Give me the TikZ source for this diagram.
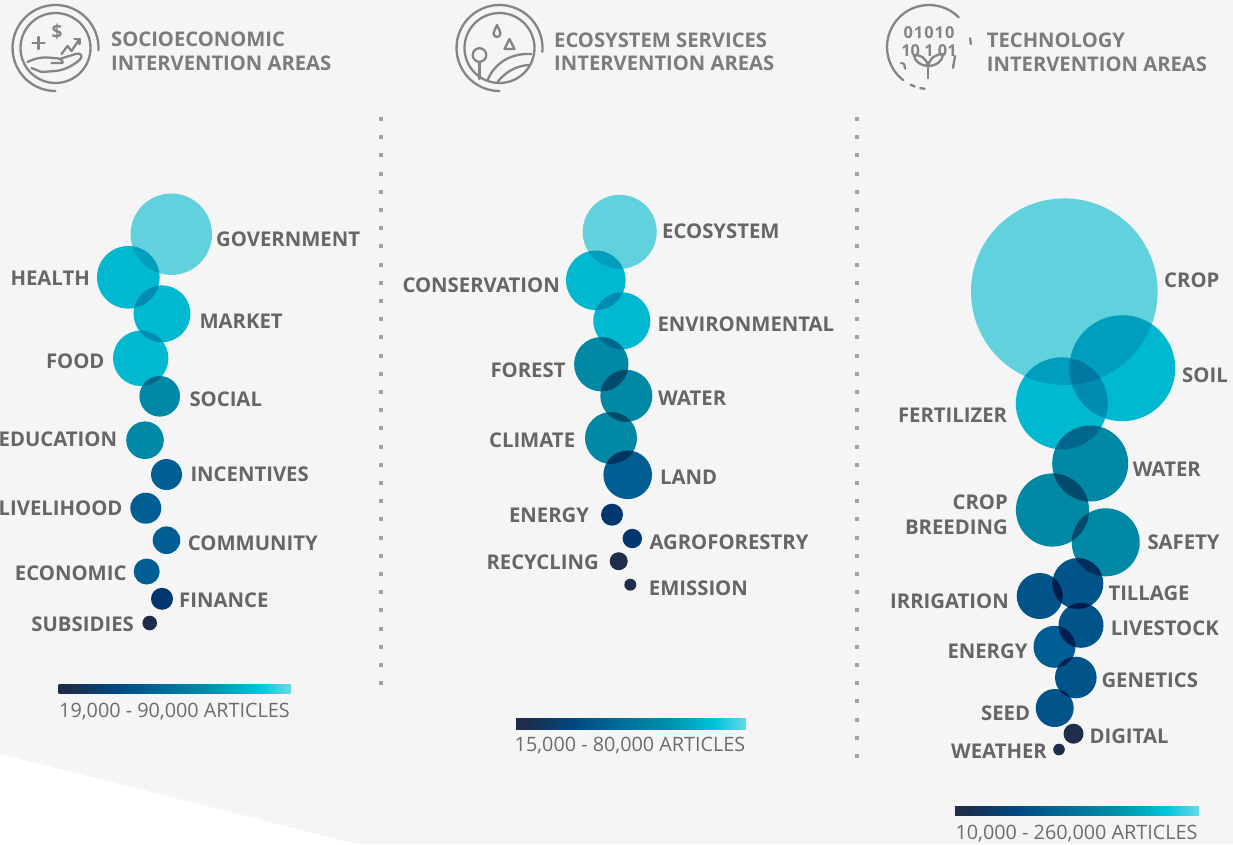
\documentclass[tikz,border=0pt]{standalone}
\usepackage{fontspec}
\setmainfont{Open Sans}
\definecolor{bgc}{HTML}{F5F5F5}
\definecolor{labgray}{HTML}{666666}
\definecolor{titlegray}{HTML}{7C7C7C}
\definecolor{legendgray}{HTML}{6C6C6C}
\definecolor{icongray}{HTML}{858585}
\definecolor{dotgray}{HTML}{A3A3A3}
\definecolor{clight}{HTML}{67DAE8}
\definecolor{ccyan}{HTML}{00C1DA}
\definecolor{cteal}{HTML}{008EAB}
\definecolor{cblue}{HTML}{00629A}
\definecolor{cblueb}{HTML}{005890}
\definecolor{cnavy}{HTML}{003A74}
\definecolor{cdark}{HTML}{202F4D}
\definecolor{g0}{HTML}{1E2D4B}
\definecolor{g1}{HTML}{004A84}
\definecolor{g2}{HTML}{006A98}
\definecolor{g3}{HTML}{0090AA}
\definecolor{g4}{HTML}{00C3DA}
\definecolor{g5}{HTML}{66DAE8}
\pgfdeclarehorizontalshading{artgrad}{100bp}{color(0bp)=(g0); color(25bp)=(g0); color(27bp)=(g0); color(38bp)=(g1); color(47bp)=(g2); color(58bp)=(g3); color(68bp)=(g4); color(75bp)=(g5); color(100bp)=(g5)}
\tikzset{
  bubble/.style={circle, inner sep=0pt, draw=none, minimum size=#1},
  labl/.style={font=\bfseries\fontsize{20.3}{24}\selectfont, text=labgray, inner sep=0pt, text depth=0pt},
  lw/.style={labl, anchor=west},
  le/.style={labl, anchor=east},
  ttl/.style={font=\bfseries\fontsize{20.2}{24}\selectfont, text=titlegray, inner sep=0pt, anchor=west, text depth=0pt},
  legtxt/.style={font=\fontsize{19.8}{22}\selectfont, text=legendgray, inner sep=0pt, text depth=0pt, anchor=center},
  iconline/.style={draw=icongray, line width=2.3pt, line cap=round, line join=round},
  divider/.style={draw=dotgray, line width=4pt, dash pattern=on 4pt off 14.2pt},
  legbar/.style={shading=artgrad, draw=none},
  digit/.style={font=\bfseries\fontsize{16.4}{16}\selectfont, text=icongray, inner sep=0pt, text depth=0pt}
}
\begin{document}
\begin{tikzpicture}[x=1pt,y=-1pt]
\useasboundingbox (0,0) rectangle (1233,844);
\clip (0,0) rectangle (1233,844);
\fill[bgc] (0,0) rectangle (1233,844);
\fill[white] (0,754) -- (357,844) -- (0,844) -- cycle;

% dividers
\coordinate (d1a) at (381,117);
\coordinate (d1b) at (381,688);
\coordinate (d2a) at (857,117);
\coordinate (d2b) at (857,760);
\draw[divider] (d1a) -- (d1b);
\draw[divider] (d2a) -- (d2b);

% ---------- icons ----------
\begin{scope}[shift={(55.5,48)}, yscale=-1]
  \draw[iconline] (0,0) circle[radius=35];
  \draw[iconline] (-3:43) arc[start angle=-3, end angle=270, radius=43];
  \draw[iconline] (-23,5) -- (-11,5) (-17,-1) -- (-17,11);
  \draw[iconline] (6,-6) -- (12,2) -- (16,-3) -- (24,9);
  \draw[iconline] (19,9) -- (24,9) -- (24,4);
  \draw[iconline] (-28,-14) .. controls (-18,-9) and (-10,-9) .. (-2,-10) .. controls (4,-10) and (8,-12) .. (7,-15) -- (-4,-15);
  \draw[iconline] (4,-11) -- (20,-6) .. controls (26,-4) and (28,-9) .. (24,-12) .. controls (18,-17) and (10,-22) .. (0,-23) -- (-14,-24) -- (-24,-20);
\end{scope}
\node[font=\bfseries\fontsize{19}{19}\selectfont, text=icongray, inner sep=0pt] (dollar) at (57,32) {\$};

\begin{scope}[shift={(499.5,48)}, yscale=-1]
  \draw[iconline] (0,0) circle[radius=35];
  \draw[iconline] (-5:43) arc[start angle=-5, end angle=270, radius=43];
  \draw[iconline] (-2.5,23) .. controls (-4,19) and (-6,17) .. (-6,14.5) arc[start angle=180, end angle=360, radius=3.5] .. controls (1,17) and (-1,19) .. (-2.5,23);
  \draw[iconline] (5,-1) -- (15,-1) -- (10,9) -- cycle;
  \draw[iconline] (-20,-7) circle[radius=6.8];
  \draw[iconline] (-20,-14) -- (-20,-31);
  \draw[iconline] (-12,-32) .. controls (-4,-14) and (12,-5) .. (32,-6);
  \draw[iconline] (-2,-34) .. controls (6,-24) and (16,-18) .. (29,-17);
\end{scope}

\begin{scope}[shift={(929,47)}, yscale=-1]
  \draw[iconline] (45:42) arc[start angle=45, end angle=232, radius=42];
  \draw[iconline] (244:42) arc[start angle=244, end angle=250, radius=42];
  \draw[iconline] (258:42) arc[start angle=258, end angle=264, radius=42];
  \draw[iconline] (12:42) arc[start angle=12, end angle=4, radius=42];
  \draw[iconline] (-1,-31) -- (-1,-19);
  \draw[iconline] (-1,-19) .. controls (-3,-10) and (-9,-8) .. (-15,-8) .. controls (-15,-14) and (-8,-19) .. (-1,-19);
  \draw[iconline] (-1,-19) .. controls (1,-10) and (8,-7) .. (14,-7) .. controls (14,-14) and (7,-19) .. (-1,-19);
  \draw[iconline] (26,-9) -- (24,-21);
\end{scope}
\begin{scope}
  \clip (929,47) circle[radius=33];
  \node[digit] (dg1) at (929,32.5) {0\hspace{1pt}1\hspace{1pt}0\hspace{1pt}1\hspace{1pt}0};
  \node[digit] (dg2) at (929,50.8) {10 1 01};
  \node[digit] (dg3) at (902,69) {0};
\end{scope}

% titles
\node[ttl] (t1a) at (111,38.7) {SOCIOECONOMIC};
\node[ttl] (t1b) at (111,63) {INTERVENTION AREAS};
\node[ttl] (t2a) at (554,40.3) {ECOSYSTEM SERVICES};
\node[ttl] (t2b) at (554,63.5) {INTERVENTION AREAS};
\node[ttl] (t3a) at (986.7,40.3) {TECHNOLOGY};
\node[ttl] (t3b) at (986.7,63.8) {INTERVENTION AREAS};

% ---------- bubbles ----------
\begin{scope}[blend mode=multiply]
  % socioeconomic
  \node[bubble=81.4pt, fill=clight] (b-gov) at (171.3,234.2) {};
  \node[bubble=62.6pt, fill=ccyan] (b-hea) at (128.3,277.3) {};
  \node[bubble=56.8pt, fill=ccyan] (b-mar) at (162,313.8) {};
  \node[bubble=55.4pt, fill=ccyan] (b-foo) at (140.7,358.3) {};
  \node[bubble=40.6pt, fill=cteal] (b-soc) at (159.7,396.3) {};
  \node[bubble=37.6pt, fill=cteal] (b-edu) at (145,440.2) {};
  \node[bubble=31pt, fill=cblue] (b-inc) at (166.5,474.5) {};
  \node[bubble=31pt, fill=cblue] (b-liv) at (145.8,508.2) {};
  \node[bubble=27.6pt, fill=cblue] (b-com) at (166.5,540.2) {};
  \node[bubble=26pt, fill=cblue] (b-eco) at (146.7,571.5) {};
  \node[bubble=22pt, fill=cnavy] (b-fin) at (162,598.8) {};
  \node[bubble=14.6pt, fill=cdark] (b-sub) at (149.7,623) {};
  % ecosystem services
  \node[bubble=74pt, fill=clight] (b-ecs) at (619.7,231.8) {};
  \node[bubble=59.6pt, fill=ccyan] (b-con) at (595.8,280.3) {};
  \node[bubble=57pt, fill=ccyan] (b-env) at (621.8,320.8) {};
  \node[bubble=54.4pt, fill=cteal] (b-for) at (601.3,364.2) {};
  \node[bubble=52pt, fill=cteal] (b-wat) at (626.3,395.8) {};
  \node[bubble=52pt, fill=cteal] (b-cli) at (611,438) {};
  \node[bubble=48.6pt, fill=cblue] (b-lan) at (627.7,474.8) {};
  \node[bubble=22pt, fill=cnavy] (b-ene) at (612,514.7) {};
  \node[bubble=19.4pt, fill=cnavy] (b-agr) at (632.3,538.5) {};
  \node[bubble=18pt, fill=cdark] (b-rec) at (618.7,561.2) {};
  \node[bubble=12pt, fill=cdark] (b-emi) at (630.3,584.7) {};
  % technology
  \node[bubble=186.6pt, fill=clight] (b-cro) at (1064.3,291.7) {};
  \node[bubble=106pt, fill=ccyan] (b-soi) at (1122.3,368.2) {};
  \node[bubble=92pt, fill=ccyan] (b-fer) at (1061.8,403.3) {};
  \node[bubble=76pt, fill=cteal] (b-twa) at (1090.2,463.5) {};
  \node[bubble=73.2pt, fill=cteal] (b-cbr) at (1052.5,510) {};
  \node[bubble=68pt, fill=cteal] (b-saf) at (1105.7,542.3) {};
  \node[bubble=51pt, fill=cblueb] (b-til) at (1077.8,583.5) {};
  \node[bubble=46pt, fill=cblueb] (b-irr) at (1039.7,596) {};
  \node[bubble=45pt, fill=cblueb] (b-liv2) at (1081,625.3) {};
  \node[bubble=42pt, fill=cblue] (b-ten) at (1054.5,646.8) {};
  \node[bubble=41.6pt, fill=cblueb] (b-gen) at (1075.8,677.5) {};
  \node[bubble=38pt, fill=cblueb] (b-see) at (1054.7,708) {};
  \node[bubble=20pt, fill=cdark] (b-dig) at (1073.5,733.7) {};
  \node[bubble=11.6pt, fill=cdark] (b-wea) at (1059,749.5) {};
\end{scope}

% ---------- labels ----------
\node[lw] (l-gov) at (216,238.8) {GOVERNMENT};
\node[le] (l-hea) at (90,277.8) {HEALTH};
\node[lw] (l-mar) at (199.3,320.8) {MARKET};
\node[le] (l-foo) at (104.7,360.8) {FOOD};
\node[lw] (l-soc) at (189.3,399.3) {SOCIAL};
\node[le] (l-edu) at (117.3,439.5) {EDUCATION};
\node[lw] (l-inc) at (190.3,474.2) {INCENTIVES};
\node[le] (l-liv) at (122.7,508.2) {LIVELIHOOD};
\node[lw] (l-com) at (187.7,542.8) {COMMUNITY};
\node[le] (l-eco) at (126.7,572.7) {ECONOMIC};
\node[lw] (l-fin) at (179,599.8) {FINANCE};
\node[le] (l-sub) at (134,624.5) {SUBSIDIES};

\node[lw] (l-ecs) at (662,230.8) {ECOSYSTEM};
\node[le] (l-con) at (560,285) {CONSERVATION};
\node[lw] (l-env) at (657.3,323.8) {ENVIRONMENTAL};
\node[le] (l-for) at (565.7,369.7) {FOREST};
\node[lw] (l-wat) at (658,398.7) {WATER};
\node[le] (l-cli) at (575.3,439.7) {CLIMATE};
\node[lw] (l-lan) at (660,477.7) {LAND};
\node[le] (l-ene) at (589.3,515.5) {ENERGY};
\node[lw] (l-agr) at (649.3,541.8) {AGROFORESTRY};
\node[le] (l-rec) at (599,561.7) {RECYCLING};
\node[lw] (l-emi) at (648.7,587.8) {EMISSION};

\node[lw] (l-cro) at (1164,280) {CROP};
\node[lw] (l-soi) at (1182,375) {SOIL};
\node[le] (l-fer) at (1007.3,415.2) {FERTILIZER};
\node[lw] (l-twa) at (1132.7,469.2) {WATER};
\node[le, align=right, font=\bfseries\fontsize{20.3}{24.3}\selectfont] (l-cbr) at (1008,514.7) {CROP\\BREEDING};
\node[lw] (l-saf) at (1147.3,541.7) {SAFETY};
\node[lw] (l-til) at (1108.3,593.3) {TILLAGE};
\node[le] (l-irr) at (1009,601.3) {IRRIGATION};
\node[lw] (l-liv2) at (1110.7,628.5) {LIVESTOCK};
\node[le] (l-ten) at (1027.7,651.2) {ENERGY};
\node[lw] (l-gen) at (1101.3,680.3) {GENETICS};
\node[le] (l-see) at (1030.3,713.5) {SEED};
\node[lw] (l-dig) at (1089.3,736) {DIGITAL};
\node[le] (l-wea) at (1047,751.5) {WEATHER};

% ---------- legends ----------
\path[legbar] (58.5,684) rectangle (290.5,693);
\node[legtxt] (lg1) at (174.5,710.3) {19,000 - 90,000 ARTICLES};
\path[legbar] (516,718) rectangle (746,729);
\node[legtxt] (lg2) at (630,744.2) {15,000 - 80,000 ARTICLES};
\path[legbar] (955,806) rectangle (1199,815);
\node[legtxt] (lg3) at (1076.5,832.5) {10,000 - 260,000 ARTICLES};
\end{tikzpicture}
\end{document}
